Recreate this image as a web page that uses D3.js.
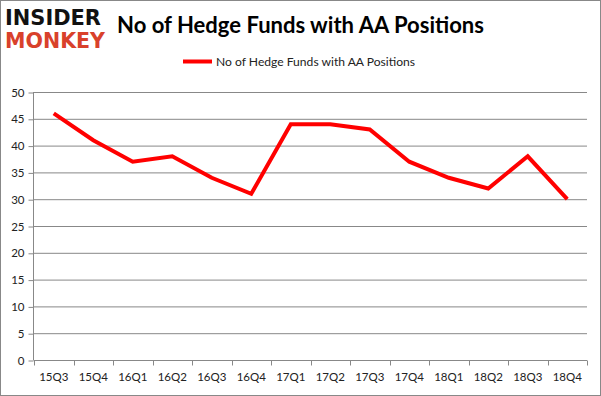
<!DOCTYPE html>
<html><head><meta charset="utf-8">
<script src="https://cdn.jsdelivr.net/npm/d3@7"></script>
<style>body{margin:0;background:#fff}svg{display:block}</style>
</head><body>
<svg id="c" width="601" height="396"></svg>
<script>
const categories = ["15Q3","15Q4","16Q1","16Q2","16Q3","16Q4","17Q1","17Q2","17Q3","17Q4","18Q1","18Q2","18Q3","18Q4"];
const values = [46,41,37,38,34,31,44,44,43,37,34,32,38,30];
const yTicks = [0,5,10,15,20,25,30,35,40,45,50];
const seriesName = "No of Hedge Funds with AA Positions";
const titleText = "No of Hedge Funds with AA Positions";

const svg = d3.select("#c");
const font = "Lato, 'Open Sans', sans-serif";
svg.append("rect").attr("x",0.5).attr("y",0.5).attr("width",600).attr("height",395)
  .attr("fill","#fff").attr("stroke","#888");

const x = d3.scaleBand().domain(categories).range([34,587]);
const y = d3.scaleLinear().domain([0,50]).range([360,92]);

// gridlines
svg.append("g").selectAll("line").data(yTicks.filter(d=>d>0)).join("line")
  .attr("x1",34).attr("x2",587).attr("y1",d=>y(d)+0.5).attr("y2",d=>y(d)+0.5)
  .attr("stroke","#888").attr("stroke-width",1);

// y axis
const ya = svg.append("g").attr("transform","translate(33.5,0.5)")
  .call(d3.axisLeft(y).tickValues(yTicks).tickSize(5).tickPadding(4));
ya.select(".domain").attr("stroke","#888").attr("d","M0,"+(y(50)-0.5)+"V"+y(0));
ya.selectAll(".tick line").attr("stroke","#888");
ya.selectAll("text").attr("font-family",font).attr("font-size",11.5).attr("fill","#222");

// x axis
const xa = svg.append("g").attr("transform","translate(0,360.5)")
  .call(d3.axisBottom(x).tickSize(0).tickPadding(12));
xa.select(".domain").attr("stroke","#888").attr("d","M34,0H587");
xa.selectAll("text").attr("font-family",font).attr("font-size",11.5).attr("fill","#222");
const bounds = categories.map(c=>x(c)).concat([587]);
xa.selectAll(".bt").data(bounds).join("line").attr("class","bt")
  .attr("x1",d=>Math.round(d)+0.5).attr("x2",d=>Math.round(d)+0.5).attr("y1",0).attr("y2",5).attr("stroke","#888");

// line
const line = d3.line().x((d,i)=>x(categories[i])+x.bandwidth()/2).y(d=>y(d));
svg.append("path").datum(values).attr("d",line).attr("fill","none")
  .attr("stroke","#ff0000").attr("stroke-width",4).attr("stroke-linejoin","miter");

// title
svg.append("text").attr("x",117).attr("y",33).text(titleText)
  .attr("font-family",font).attr("font-weight","bold").attr("font-size",22).attr("fill","#000")
  .attr("textLength",367).attr("lengthAdjust","spacingAndGlyphs");

// legend
svg.append("line").attr("x1",183).attr("x2",212).attr("y1",61.5).attr("y2",61.5)
  .attr("stroke","#ff0000").attr("stroke-width",4);
svg.append("text").attr("x",216).attr("y",66).text(seriesName)
  .attr("font-family",font).attr("font-size",12).attr("fill","#222")
  .attr("textLength",199).attr("lengthAdjust","spacingAndGlyphs");

// logo
svg.append("text").attr("x",5).attr("y",25).text("INSIDER")
  .attr("font-family","'DejaVu Sans', sans-serif").attr("font-weight","bold").attr("font-size",22)
  .attr("fill","#111").attr("textLength",96).attr("lengthAdjust","spacingAndGlyphs");
svg.append("text").attr("x",5).attr("y",48).text("MONKEY")
  .attr("font-family","'DejaVu Sans', sans-serif").attr("font-weight","bold").attr("font-size",22)
  .attr("fill","#d9412b").attr("textLength",100).attr("lengthAdjust","spacingAndGlyphs");
</script>
</body></html>
